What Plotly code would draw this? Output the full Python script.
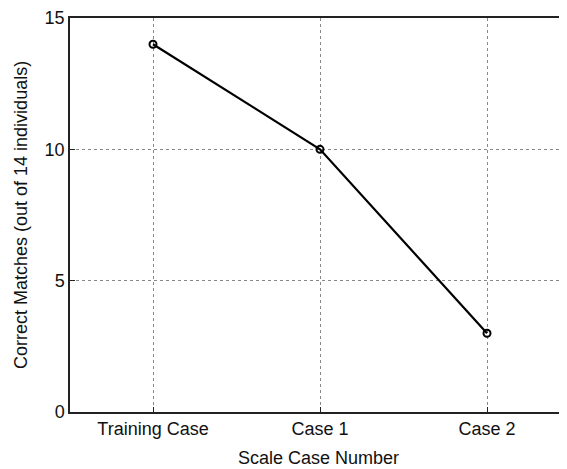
import plotly.graph_objects as go

categories = ["Training Case", "Case 1", "Case 2"]
matches = [14, 10, 3]
y_ticks = [0, 5, 10, 15]
x_title = "Scale Case Number"
y_title = "Correct Matches (out of 14 individuals)"

fig = go.Figure()
fig.add_trace(go.Scatter(
    x=list(range(len(categories))), y=matches, mode="lines+markers",
    line=dict(color="black", width=2.2),
    marker=dict(symbol="circle-open", size=7, color="black", line=dict(width=2)),
    showlegend=False,
))

font = dict(family="Liberation Sans, Arial, sans-serif", size=18, color="#111")
fig.update_layout(
    width=559, height=461,
    margin=dict(l=62, r=0, t=7, b=57),
    paper_bgcolor="white", plot_bgcolor="white",
    font=font,
)
fig.update_xaxes(
    range=[-0.497, 2.479],
    tickmode="array", tickvals=list(range(len(categories))), ticktext=categories,
    tickfont=dict(size=18, color="#111"),
    showline=True, linecolor="#222", linewidth=1.5, mirror=True,
    ticks="inside", ticklen=5, tickcolor="#222",
    showgrid=True, gridcolor="#888", griddash="dot", gridwidth=1,
    zeroline=False,
)
fig.update_yaxes(
    range=[0, 15],
    tickmode="array", tickvals=y_ticks, ticktext=[str(v) for v in y_ticks],
    tickfont=dict(size=18, color="#111"),
    ticklabeloverflow="allow",
    showline=True, linecolor="#222", linewidth=1.5,
    ticks="inside", ticklen=5, tickcolor="#222",
    showgrid=True, gridcolor="#888", griddash="dot", gridwidth=1,
    zeroline=False,
)
fig.add_annotation(text=x_title, xref="paper", yref="paper", x=0.5, y=-0.116,
                   xanchor="center", yanchor="middle", showarrow=False,
                   font=dict(size=18, color="#111"))
fig.add_annotation(text=y_title, xref="paper", yref="paper", x=-0.0986, y=0.5,
                   xanchor="center", yanchor="middle", textangle=-90, showarrow=False,
                   font=dict(size=18, color="#111"))
fig.write_html("out.html")
